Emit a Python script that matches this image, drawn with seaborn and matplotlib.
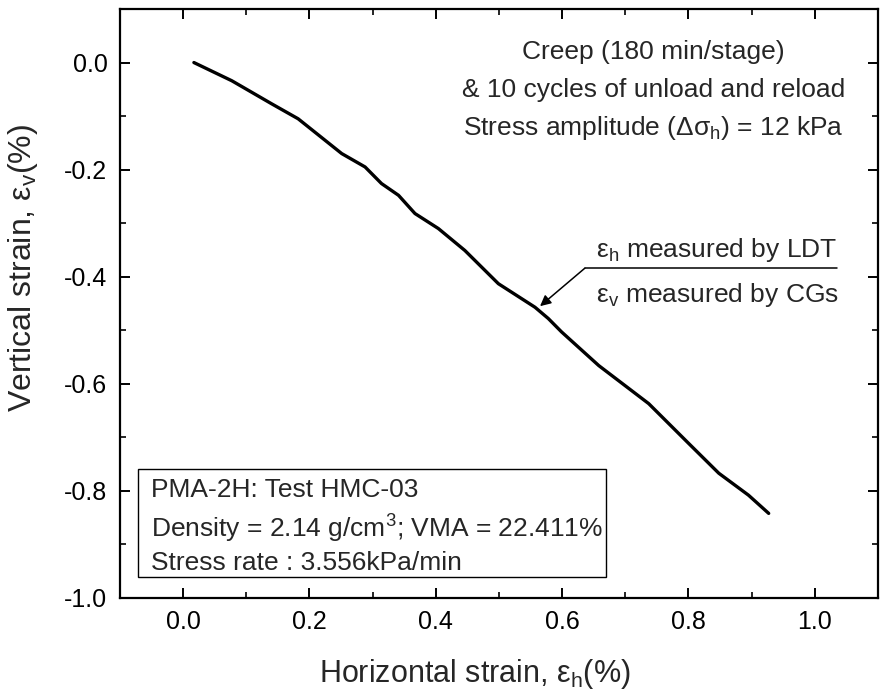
import numpy as np
import pandas as pd
import seaborn as sns
import matplotlib.pyplot as plt
from matplotlib.patches import Rectangle
from matplotlib.ticker import MultipleLocator

# curve (horizontal vs vertical strain, %)
strain_h = [0.017, 0.077, 0.140, 0.182, 0.251, 0.288, 0.314, 0.341, 0.367, 0.404,
            0.446, 0.499, 0.557, 0.578, 0.599, 0.658, 0.737, 0.800, 0.848, 0.895, 0.927]
strain_v = [0.000, -0.034, -0.077, -0.105, -0.170, -0.195, -0.226, -0.248, -0.282, -0.310,
            -0.351, -0.413, -0.457, -0.478, -0.503, -0.566, -0.637, -0.711, -0.767, -0.808, -0.842]

x_ticks = [0.0, 0.2, 0.4, 0.6, 0.8, 1.0]
y_ticks = [0.0, -0.2, -0.4, -0.6, -0.8, -1.0]

test_lines = ["Creep (180 min/stage)",
              "& 10 cycles of unload and reload",
              r"Stress amplitude ($\mathregular{Δσ_h}$) = 12 kPa"]
sample_lines = ["PMA-2H: Test HMC-03",
                r"Density = 2.14 g/cm$^\mathregular{3}$; VMA = 22.411%",
                "Stress rate : 3.556kPa/min"]
gauge_top = r"$\mathregular{ε_h}$ measured by LDT"
gauge_bottom = r"$\mathregular{ε_v}$ measured by CGs"

sns.set_theme(style="ticks")
plt.rcParams["font.family"] = ["Liberation Sans", "DejaVu Sans"]
plt.rcParams["axes.unicode_minus"] = False
plt.rcParams["mathtext.fontset"] = "custom"
plt.rcParams["mathtext.rm"] = "Liberation Sans"

df = pd.DataFrame({"h": strain_h, "v": strain_v})

fig = plt.figure(figsize=(8.83, 6.98), dpi=100)
ax = fig.add_axes([0.1359, 0.1433, 0.8584, 0.8438])

sns.lineplot(data=df, x="h", y="v", ax=ax, color="black", lw=2.4,
             sort=False, estimator=None)

ax.set_xlim(-0.1, 1.1)
ax.set_ylim(-1.0, 0.1)
ax.set_xticks(x_ticks)
ax.set_yticks(y_ticks)
ax.set_xticklabels([f"{t:.1f}" for t in x_ticks])
ax.set_yticklabels([f"{t:.1f}" for t in y_ticks])
ax.xaxis.set_minor_locator(MultipleLocator(0.1))
ax.yaxis.set_minor_locator(MultipleLocator(0.1))
ax.tick_params(which="both", direction="in", top=True, right=True,
               colors="black", labelsize=18)
ax.tick_params(which="major", length=7.5, width=1.4, pad=9)
ax.tick_params(which="minor", length=4, width=1.2)
for sp in ax.spines.values():
    sp.set_linewidth(1.6)
    sp.set_color("black")

ax.set_xlabel(r"Horizontal strain, $\mathregular{ε_h}$(%)", fontsize=22)
ax.set_ylabel(r"Vertical strain, $\mathregular{ε_v}$(%)", fontsize=23,
              va="center")
ax.xaxis.set_label_coords(0.468, -0.10)
ax.yaxis.set_label_coords(-0.128, 0.56)

# test description, top right
for txt, yy in zip(test_lines, [0.019, -0.052, -0.123]):
    ax.text(0.745, yy, txt, ha="center", va="center", fontsize=19)

# gauge annotation with leader line and arrow
ax.plot([0.636, 1.035], [-0.384, -0.384], color="black", lw=1.1)
ax.annotate("", xy=(0.565, -0.455), xytext=(0.636, -0.384),
            arrowprops=dict(arrowstyle="-|>", color="black", lw=1.1,
                            mutation_scale=16, shrinkA=0, shrinkB=0))
ax.text(0.653, -0.351, gauge_top, ha="left", va="center", fontsize=19)
ax.text(0.653, -0.435, gauge_bottom, ha="left", va="center", fontsize=19)

# sample info box, bottom left
ax.add_patch(Rectangle((-0.071, -0.961), 0.740, 0.202, fill=False,
                       edgecolor="black", lw=1.0))
for txt, yy in zip(sample_lines, [-0.799, -0.868, -0.935]):
    ax.text(-0.051, yy, txt, ha="left", va="center", fontsize=19)

fig.savefig("out.png", dpi=100)
